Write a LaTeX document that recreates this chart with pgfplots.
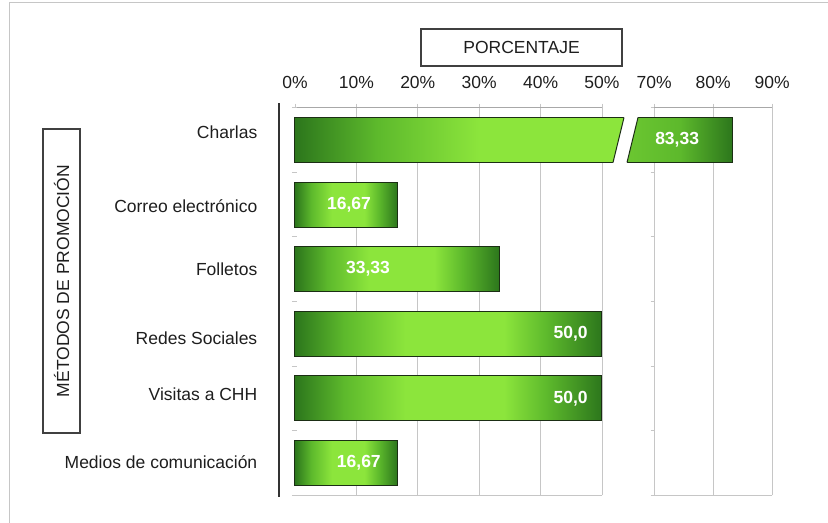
\documentclass[border=0pt]{standalone}
\usepackage{fontspec}
\setmainfont{Liberation Sans}
\usepackage{pgfplots}
\pgfplotsset{compat=1.18}
\definecolor{gdark}{HTML}{2C761C}
\definecolor{gmid}{HTML}{5DB92C}
\definecolor{glight}{HTML}{8CE53C}
\definecolor{gridc}{HTML}{C6C6C6}
\definecolor{txt}{HTML}{1E1E1E}
\definecolor{barline}{HTML}{1B2E14}
\pgfdeclarehorizontalshading{barshade}{100bp}{color(0bp)=(gdark); color(25bp)=(gdark); color(33bp)=(gmid); color(43bp)=(glight); color(59bp)=(glight); color(66bp)=(gmid); color(75bp)=(gdark); color(100bp)=(gdark)}
\pgfdeclarehorizontalshading{tailshade}{100bp}{color(0bp)=(gmid!70!glight); color(25bp)=(gmid!70!glight); color(50bp)=(gmid); color(75bp)=(gdark); color(100bp)=(gdark)}
\begin{document}
\begin{tikzpicture}[font=\fontsize{17.5bp}{21bp}\selectfont]
\useasboundingbox (0,0) rectangle (828bp,523bp);
\draw[gray!45, line width=1bp] (9bp,0) -- (9bp,520bp) -- (828bp,520bp);

\pgfplotsset{brk/.style={
  y=64.6bp, ymin=-0.5, ymax=5.5,
  axis line style={draw=none},
  tick align=outside, major tick length=4bp,
  xtick pos=upper, xticklabel pos=upper,
  xtick style={gridc, line width=0.8bp},
  ytick style={draw=none},
  xticklabel style={text=txt, anchor=base, yshift=15bp},
  clip mode=individual,
}}
\tikzset{gbar/.style={xbar, bar width=45bp, bar shift=0pt, draw=barline, line width=1bp,
  shading=barshade, shading angle=0}}
\tikzset{vlab/.style={text=white, font=\fontsize{17.5bp}{21bp}\selectfont\bfseries}}

% left part of the broken axis
\begin{axis}[brk, x=6.14bp, anchor=south west, at={(279bp,27.7bp)},
  xmin=-2.6, xmax=53.6,
  xtick={0,10,20,30,40,50}, xticklabels={0\%,10\%,20\%,30\%,40\%,50\%},
  ytick={0.02,1.07,1.935,3.0,3.98,5.12},
  yticklabels={Medios de comunicación,Visitas a CHH,Redes Sociales,Folletos,Correo electrónico,Charlas},
  yticklabel style={anchor=east, text=txt, xshift=-14.2bp}]
\pgfplotsinvokeforeach{10,20,30,40,50}{\draw[gridc, line width=0.8bp] (axis cs:#1,-0.5) -- (axis cs:#1,5.5);}
\draw[gridc!85!black, line width=0.9bp] (axis cs:0,5.5) -- (axis cs:50,5.5);
\draw[gridc, line width=0.8bp] (axis cs:0,-0.5) -- (axis cs:50,-0.5);
\pgfplotsinvokeforeach{-0.5,0.5,1.5,2.5,3.5,4.5,5.5}{\draw[gridc, line width=0.8bp] (axis cs:-0.5,#1) -- (axis cs:0.3,#1);}
\addplot[gbar] coordinates {(83.33,5)};  % Charlas
\addplot[gbar] coordinates {(16.67,4)};  % Correo electronico
\addplot[gbar] coordinates {(33.33,3)};  % Folletos
\addplot[gbar] coordinates {(50,2)};     % Redes Sociales
\addplot[gbar] coordinates {(50,1)};     % Visitas a CHH
\addplot[gbar] coordinates {(16.67,0)};  % Medios de comunicacion
\node[vlab] at (axis cs:8.8,4) {16,67};
\node[vlab] at (axis cs:11.9,3) {33,33};
\node[vlab] at (axis cs:44.9,2) {50,0};
\node[vlab] at (axis cs:44.9,1) {50,0};
\node[vlab] at (axis cs:10.4,0) {16,67};
\end{axis}

% right part of the broken axis
\begin{axis}[brk, x=5.9bp, anchor=south west, at={(627bp,27.7bp)},
  xmin=65.4, xmax=92,
  xtick={70,80,90}, xticklabels={70\%,80\%,90\%},
  ytick=\empty]
\pgfplotsinvokeforeach{70,80,90}{\draw[gridc, line width=0.8bp] (axis cs:#1,-0.5) -- (axis cs:#1,5.5);}
\draw[gridc!85!black, line width=0.9bp] (axis cs:69.7,5.5) -- (axis cs:90,5.5);
\draw[gridc, line width=0.8bp] (axis cs:70,-0.5) -- (axis cs:90,-0.5);
\pgfplotsinvokeforeach{-0.5,0.5,1.5,2.5,3.5,4.5,5.5}{\draw[gridc, line width=0.8bp] (axis cs:69.4,#1) -- (axis cs:70,#1);}
\addplot[gbar, shading=tailshade] coordinates {(83.33,5)};  % Charlas
\node[vlab] at (axis cs:73.9,5) {83,33};
\end{axis}

% break of the Charlas bar
\fill[white] (624.25bp,406.6bp) -- (638.25bp,406.6bp) -- (626.75bp,359.4bp) -- (612.75bp,359.4bp) -- cycle;
\draw[barline, line width=1bp] (624bp,405.5bp) -- (613bp,360.5bp);
\draw[barline, line width=1bp] (638bp,405.5bp) -- (627bp,360.5bp);

% left axis line
\draw[black!80, line width=1.3bp] (279bp,26bp) -- (279bp,420bp);

% axis titles in boxes
\node[draw=black!75, line width=1.3bp, minimum width=201bp, minimum height=37bp, text=txt] at (521.5bp,475.5bp) {PORCENTAJE};
\node[draw=black!75, line width=1.3bp, minimum width=304bp, minimum height=37bp, text=txt, rotate=90] at (61.5bp,242bp) {MÉTODOS DE PROMOCIÓN};
\end{tikzpicture}
\end{document}
